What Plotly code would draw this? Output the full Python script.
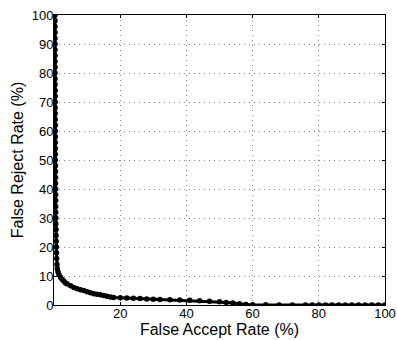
import plotly.graph_objects as go

far = [0.3,0.3,0.3,0.3,0.3,0.3,0.3,0.3,0.3,0.3,0.3,0.3,0.3,0.35,0.35,0.35,0.35,0.35,0.35,0.4,0.4,0.4,0.4,0.4,0.4,0.4,
       0.45,0.45,0.45,0.45,0.5,0.5,0.5,0.5,0.5,0.55,0.55,0.6,0.6,0.65,0.7,0.75,0.8,0.9,1.0,1.2,1.5,2,2.5,3,3.5,4,5,6,7,8,9,
       10,11,12,13,14,15,16,17,18,20,22,24,26,28,30,32,35,38,41,44,47,50,52,54,56,58,60,64,68,72,76,78,80,82,84,86,88,90,92,94,96,98,100]
frr = [100,98,96,94,92,90,88,86,84,82,80,78,76,74,72,70,68,66,64,62,60,58,56,54,52,50,
       48,46,44,42,40,38,36,34,32,30,28,26,24,22,20,18,16,14,12.5,11.5,10.5,9.5,8.8,8.2,7.6,7.2,6.6,6.0,5.6,5.3,5.0,
       4.6,4.2,3.9,3.7,3.5,3.3,3.0,2.8,2.6,2.5,2.4,2.3,2.2,2.1,2.0,1.9,1.8,1.7,1.6,1.5,1.3,1.1,0.9,0.7,0.4,0.2,0.1,0.05,0,0,0,0,0,0,0,0,0,0,0,0,0,0,0]

xticks = [20, 40, 60, 80, 100]
yticks = [0, 10, 20, 30, 40, 50, 60, 70, 80, 90, 100]

fig = go.Figure()
fig.add_trace(go.Scatter(x=far, y=frr, mode="lines+markers",
                         line=dict(color="black", width=3),
                         marker=dict(color="black", size=5.5)))

font = dict(family="Liberation Sans, Arial, sans-serif", size=13, color="black")
axis_common = dict(range=[0, 100], ticks="inside", ticklen=3, tickcolor="black",
                   showline=True, linecolor="black", linewidth=1, mirror="ticks",
                   showgrid=True, gridcolor="#888", griddash="1px,4px", gridwidth=1,
                   zeroline=False, tickfont=font, automargin=False)
fig.update_layout(
    width=397, height=340,
    margin=dict(l=54, r=12, t=15, b=35),
    paper_bgcolor="white", plot_bgcolor="white",
    showlegend=False, font=font,
    xaxis=dict(tickvals=xticks, title=dict(text="False Accept Rate (%)", standoff=0),
               ticklabelstandoff=-4, **axis_common),
    yaxis=dict(tickvals=yticks, title=dict(text="False Reject Rate (%)", standoff=4),
               ticklabelstandoff=-3, **axis_common),
)
fig.write_html("out.html")
